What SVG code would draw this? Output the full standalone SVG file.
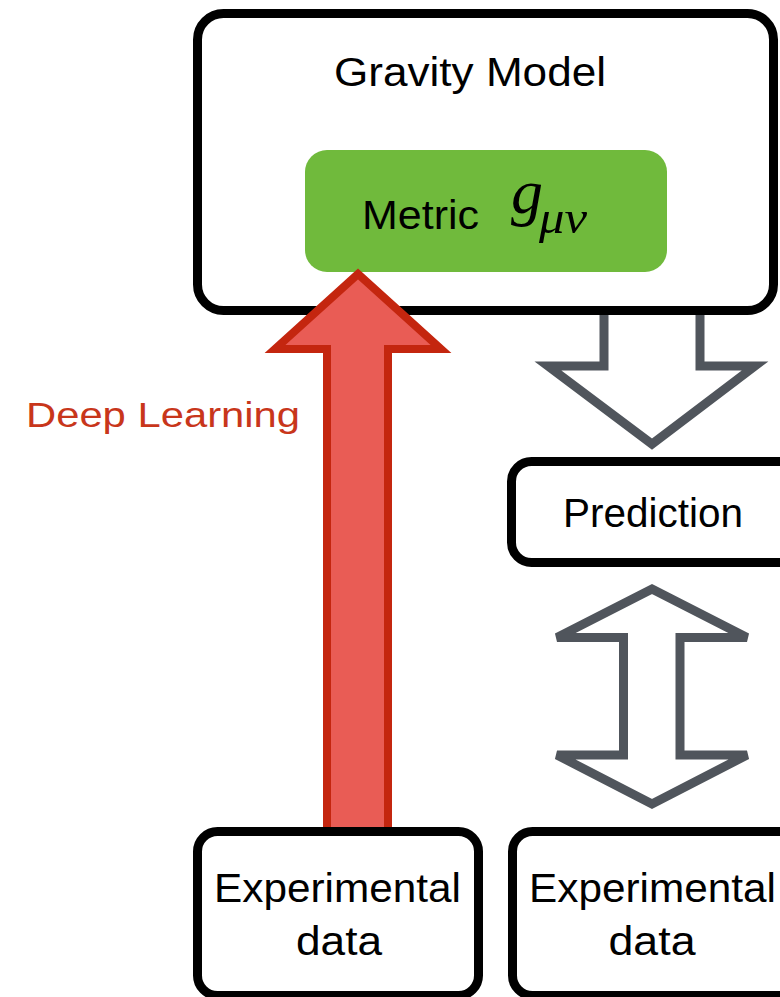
<svg xmlns="http://www.w3.org/2000/svg" width="780" height="997" viewBox="0 0 780 997">
  <style>
    .box { fill: #ffffff; stroke: #000000; stroke-width: 9; }
    .label { font-family: "Liberation Sans", Arial, sans-serif; fill: #000000; }
    .math { font-family: "Liberation Serif", "Times New Roman", serif; font-style: italic; fill: #000000; }
    .hollow { fill: #ffffff; stroke: #50555c; stroke-width: 9; stroke-linejoin: miter; }
    .learn { fill: #e95c55; stroke: #c4260f; stroke-width: 8; stroke-linejoin: miter; }
  </style>

  <rect width="780" height="997" fill="#ffffff"/>

  <!-- Arrows between the boxes -->
  <g id="connectors">
    <!-- model to prediction -->
    <polygon class="hollow" points="604,305 700,305 700,366 755,366 652,444 548,366 604,366"/>
    <!-- prediction compared with data -->
    <polygon class="hollow" points="652,589 747,637.5 680,637.5 680,755 747,755 652,804 557,755 623.5,755 623.5,637.5 557,637.5"/>
  </g>

  <g id="gravity-model">
    <rect class="box" x="197.5" y="13.5" width="576" height="297" rx="26"/>
    <text class="label" x="470" y="86" font-size="40" text-anchor="middle" textLength="272" lengthAdjust="spacingAndGlyphs">Gravity Model</text>
  </g>

  <g id="metric">
    <rect x="305" y="150" width="362" height="122" rx="22" fill="#70ba3c"/>
    <text class="label" x="362" y="229" font-size="41" textLength="117" lengthAdjust="spacingAndGlyphs">Metric</text>
    <text class="math" x="511" y="213" font-size="64">g</text>
    <text class="math" x="539" y="233" font-size="46" textLength="48" lengthAdjust="spacingAndGlyphs">μν</text>
  </g>

  <g id="deep-learning">
    <polygon class="learn" points="327,832 327,349 275,349 358,274 441,349 388,349 388,832"/>
    <text x="26" y="427" font-family="Liberation Sans, Arial, sans-serif" font-size="35" fill="#c8361b" textLength="274" lengthAdjust="spacingAndGlyphs">Deep Learning</text>
  </g>

  <g id="prediction">
    <rect class="box" x="511.5" y="461.5" width="300" height="101" rx="20"/>
    <text class="label" x="653" y="527" font-size="40" text-anchor="middle" textLength="180" lengthAdjust="spacingAndGlyphs">Prediction</text>
  </g>

  <g id="data-left">
    <rect class="box" x="197.5" y="831.5" width="281" height="164" rx="20"/>
    <text class="label" x="337.5" y="902" font-size="40" text-anchor="middle" textLength="247" lengthAdjust="spacingAndGlyphs">Experimental</text>
    <text class="label" x="339" y="955" font-size="40" text-anchor="middle" textLength="86" lengthAdjust="spacingAndGlyphs">data</text>
  </g>

  <g id="data-right">
    <rect class="box" x="512.5" y="831.5" width="300" height="164" rx="20"/>
    <text class="label" x="652.5" y="902" font-size="40" text-anchor="middle" textLength="247" lengthAdjust="spacingAndGlyphs">Experimental</text>
    <text class="label" x="652" y="955" font-size="40" text-anchor="middle" textLength="87" lengthAdjust="spacingAndGlyphs">data</text>
  </g>
</svg>
